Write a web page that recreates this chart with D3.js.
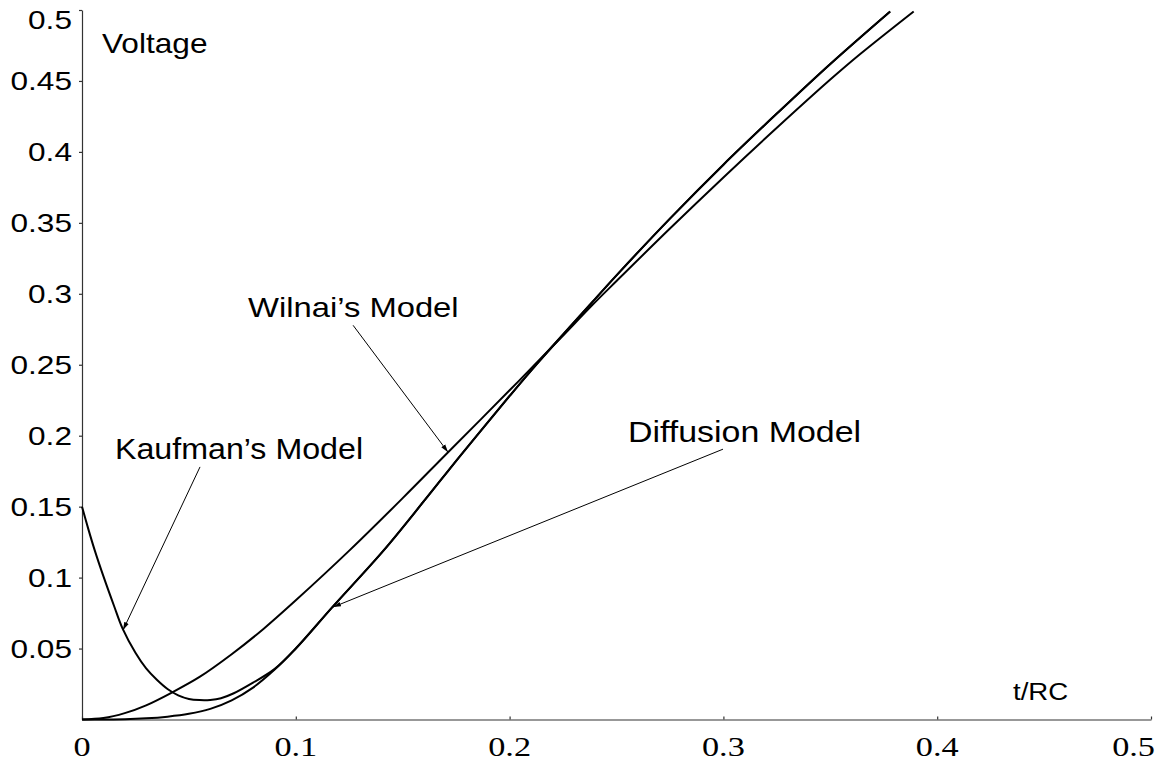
<!DOCTYPE html>
<meta charset="utf-8">
<style>
body { margin: 0; background: white; }
svg { display: block; }
.curve { fill: none; stroke: #000; stroke-width: 2px; }
.pointer { stroke: #000; stroke-width: 1px; }
.axis path, .axis line { stroke: #333; stroke-width: 1.2px; }
.sans { font-family: "Liberation Sans", Arial, sans-serif; fill: #000; }
.serif { font-family: "Liberation Serif", "Times New Roman", serif; fill: #000; }
</style>
<svg width="1166" height="763">
    <rect width="100%" height="100%" fill="white"/>
</svg>
<script src="https://d3js.org/d3.v7.min.js"></script>
<script>

// tick values
var xTicks = [0, 0.1, 0.2, 0.3, 0.4, 0.5];
var yTicks = [0.05, 0.1, 0.15, 0.2, 0.25, 0.3, 0.35, 0.4, 0.45, 0.5];

// diffusion model
var tDiff = [0, 0.02, 0.03, 0.04, 0.05, 0.06, 0.07, 0.08, 0.09, 0.1, 0.117, 0.141, 0.16,
             0.177, 0.2, 0.213, 0.238, 0.25, 0.275, 0.3, 0.325, 0.35, 0.378];
var vDiff = [0, 0.0002, 0.0008, 0.002, 0.004, 0.0075, 0.0135, 0.0225, 0.035, 0.05, 0.079,
             0.119, 0.154, 0.186, 0.228, 0.251, 0.293, 0.313, 0.353, 0.391, 0.427, 0.462,
             0.499];

// Wilnai's model
var tWil = [0, 0.01, 0.02, 0.03, 0.042, 0.055, 0.07, 0.085, 0.1, 0.125, 0.15, 0.171,
            0.2, 0.224, 0.238, 0.25, 0.275, 0.3, 0.325, 0.35, 0.364, 0.389];
var vWil = [0, 0.001, 0.0045, 0.01, 0.019, 0.03, 0.046, 0.064, 0.084, 0.119, 0.156, 0.188,
            0.232, 0.269, 0.291, 0.309, 0.346, 0.382, 0.417, 0.451, 0.469, 0.499];

// Kaufman's model (runs into the diffusion curve after t ~ 0.09)
var tKauf = [0, 0.003, 0.006, 0.01, 0.015, 0.019, 0.025, 0.03, 0.035, 0.04, 0.045, 0.05,
             0.055, 0.06, 0.065, 0.071, 0.08, 0.09, 0.1, 0.117, 0.141, 0.16, 0.177, 0.2,
             0.213, 0.238, 0.25, 0.275, 0.3, 0.325, 0.35, 0.378];
var vKauf = [0.15, 0.134, 0.119, 0.101, 0.08, 0.064, 0.047, 0.036, 0.028, 0.0215, 0.017,
             0.0145, 0.0137, 0.0138, 0.015, 0.0185, 0.026, 0.0355, 0.05, 0.079, 0.119, 0.154,
             0.186, 0.228, 0.251, 0.293, 0.313, 0.353, 0.391, 0.427, 0.462, 0.499];

var svg = d3.select("svg"),
    width = +svg.attr("width"),
    height = +svg.attr("height");

var x = d3.scaleLinear().domain([0, 0.5]).range([82, 1151]);
var y = d3.scaleLinear().domain([0, 0.5]).range([719.5, 10]);

function zip(ts, vs) {
    return ts.map(function(t, i) { return [t, vs[i]]; });
}

// axes (labels drawn separately, the original text is stretched sideways)
svg.append("g")
    .attr("class", "axis")
    .attr("transform", "translate(0," + y(0) + ")")
    .call(d3.axisBottom(x).tickValues(xTicks).tickSize(-3).tickSizeOuter(0).tickFormat(""));

svg.append("g")
    .attr("class", "axis")
    .attr("transform", "translate(" + x(0) + ",0)")
    .call(d3.axisLeft(y).tickValues(yTicks).tickSize(3).tickSizeOuter(0).tickFormat(""));

function label(txt, px, py, size, sx, cls, anchor) {
    return svg.append("text")
        .attr("class", cls)
        .attr("transform", "translate(" + px + "," + py + ") scale(" + sx + ",1)")
        .attr("font-size", size + "px")
        .attr("text-anchor", anchor || "start")
        .text(txt);
}

// y tick labels
yTicks.forEach(function(v) {
    var py = Math.max(y(v) + 9, y(0.5) + 18.5);
    label(String(v), 72, py, 25.5, 1.24, "sans", "end");
});

// x tick labels
xTicks.forEach(function(t) {
    var t0 = label(String(t), x(t), 756, 27, 1.27, "serif", "middle");
    var w = t0.node().getBBox().width * 1.27;
    if (x(t) + w / 2 > 1155) {
        t0.attr("transform", "translate(" + (1155 - w / 2) + ",756) scale(1.27,1)");
    }
});

// curves
var line = d3.line()
    .x(function(d) { return x(d[0]); })
    .y(function(d) { return y(d[1]); })
    .curve(d3.curveCatmullRom.alpha(0.5));

[zip(tKauf, vKauf), zip(tWil, vWil), zip(tDiff, vDiff)].forEach(function(pts) {
    svg.append("path")
        .attr("class", "curve")
        .attr("d", line(pts));
});

// arrowhead
svg.append("defs").append("marker")
    .attr("id", "head")
    .attr("viewBox", "0 0 10 10")
    .attr("refX", 10)
    .attr("refY", 5)
    .attr("markerWidth", 8)
    .attr("markerHeight", 8)
    .attr("markerUnits", "userSpaceOnUse")
    .attr("orient", "auto")
  .append("path")
    .attr("d", "M0,2L10,5L0,8Z")
    .attr("fill", "#000");

// annotation pointers, in data units: [tail t, tail v, tip t, tip v]
var pointers = [
    [0.0552, 0.178, 0.0192, 0.063],
    [0.1268, 0.2778, 0.1712, 0.1884],
    [0.2998, 0.1905, 0.1174, 0.0792]
];

svg.append("g")
    .selectAll("line")
    .data(pointers)
    .enter().append("line")
    .attr("class", "pointer")
    .attr("x1", function(d) { return x(d[0]); })
    .attr("y1", function(d) { return y(d[1]); })
    .attr("x2", function(d) { return x(d[2]); })
    .attr("y2", function(d) { return y(d[3]); })
    .attr("marker-end", "url(#head)");

// text labels
label("Voltage", 102, 53, 28, 1.13, "sans");
label("Kaufman\u2019s Model", 115, 459, 29, 1.11, "sans");
label("Wilnai\u2019s Model", 248, 317, 28.5, 1.15, "sans");
label("Diffusion Model", 628, 442, 29, 1.17, "sans");
label("t/RC", 1013, 700, 24, 1.15, "sans");

</script>
